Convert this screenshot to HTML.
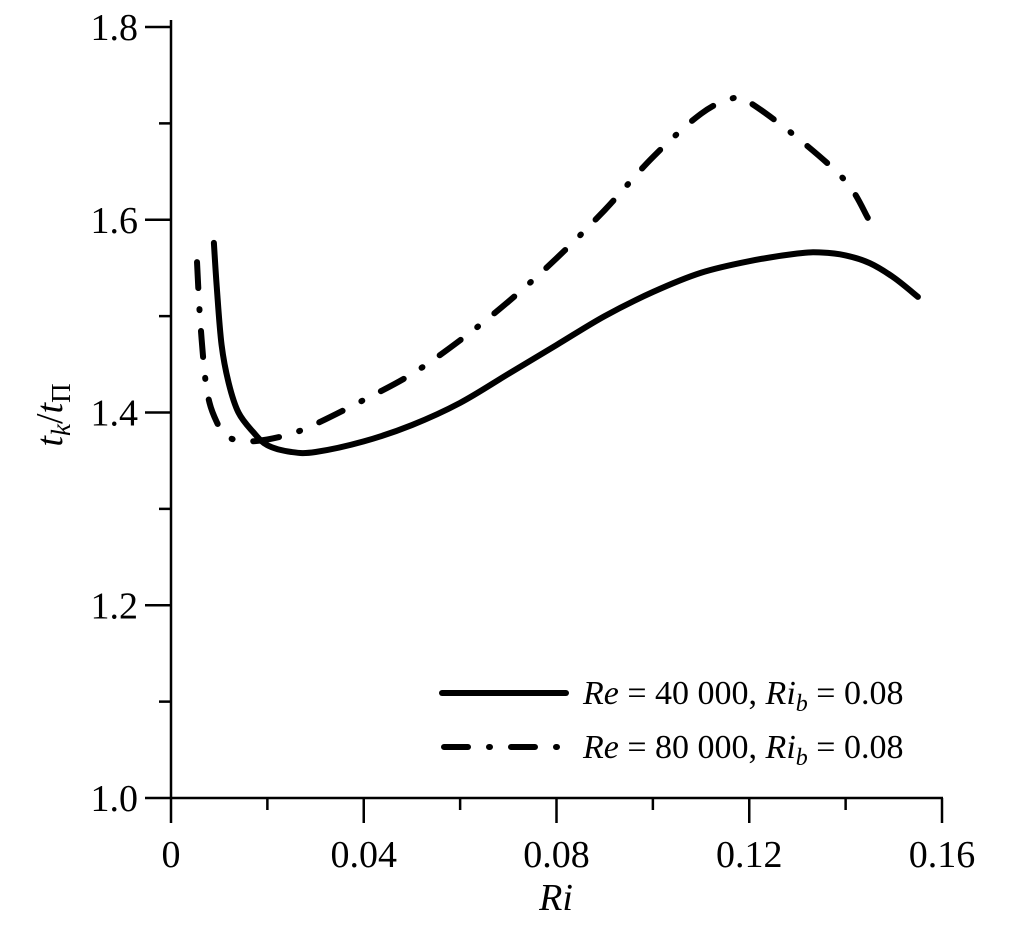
<!DOCTYPE html>
<html><head><meta charset="utf-8"><style>
body{margin:0;background:#fff}
svg text{font-family:"Liberation Serif",serif;fill:#000}
</style></head><body>
<svg width="1010" height="932" viewBox="0 0 1010 932">
<g id="axes"></g>
<g id="series"></g>
<text x="62" y="415" font-size="38" font-style="italic" text-anchor="middle" transform="rotate(-90 62 415)">t<tspan font-size="27" dy="8">k</tspan><tspan dy="-8" font-style="normal">/</tspan>t<tspan font-size="27" dy="8" font-style="normal">Π</tspan></text>
<text x="556" y="910" font-size="38" font-style="italic" text-anchor="middle">Ri</text>
<g>
<line x1="442" y1="693" x2="566" y2="693" stroke="#000" stroke-width="6" stroke-linecap="round"/>
<text x="583" y="704" font-size="34"><tspan font-style="italic">Re</tspan> = 40 000, <tspan font-style="italic">Ri</tspan><tspan font-style="italic" font-size="24" dy="7">b</tspan><tspan dy="-7"> = 0.08</tspan></text>
<line x1="444" y1="747" x2="560" y2="747" stroke="#000" stroke-width="6" stroke-linecap="round" stroke-dasharray="24 21 1 21"/>
<text x="583" y="758" font-size="34"><tspan font-style="italic">Re</tspan> = 80 000, <tspan font-style="italic">Ri</tspan><tspan font-style="italic" font-size="24" dy="7">b</tspan><tspan dy="-7"> = 0.08</tspan></text>
</g>
</svg>
<script>
const xTicks=[0,0.04,0.08,0.12,0.16];
const xTickLabels=["0","0.04","0.08","0.12","0.16"];
const yTicks=[1.0,1.2,1.4,1.6,1.8];
const yTickLabels=["1.0","1.2","1.4","1.6","1.8"];
const riA=[0.0089,0.0095,0.0105,0.012,0.014,0.017,0.02,0.025,0.03,0.04,0.05,0.06,0.07,0.08,0.09,0.10,0.11,0.12,0.13,0.135,0.14,0.145,0.15,0.155];
const valA=[1.576,1.53,1.47,1.43,1.40,1.38,1.366,1.359,1.359,1.37,1.387,1.41,1.44,1.47,1.50,1.525,1.545,1.557,1.565,1.566,1.563,1.555,1.54,1.52];
const riB=[0.0054,0.006,0.007,0.008,0.0095,0.011,0.013,0.016,0.02,0.025,0.03,0.04,0.05,0.06,0.07,0.08,0.09,0.10,0.11,0.1165,0.12,0.13,0.14,0.1446];
const valB=[1.556,1.50,1.44,1.41,1.39,1.378,1.372,1.370,1.372,1.378,1.388,1.413,1.44,1.475,1.515,1.56,1.61,1.665,1.71,1.726,1.722,1.685,1.64,1.602];
const NS="http://www.w3.org/2000/svg";
const X=v=>171+v*(942-171)/0.16;
const Y=v=>798-(v-1.0)*(798-27)/0.8;
const axes=document.getElementById('axes');
function mk(tag,attrs,parent){const e=document.createElementNS(NS,tag);for(const k in attrs)e.setAttribute(k,attrs[k]);parent.appendChild(e);return e;}
let e=mk('line',{x1:171,y1:20,x2:171,y2:823,stroke:'#000','stroke-width':2.5},axes);


e=mk('line',{x1:145,y1:798,x2:943,y2:798,stroke:'#000','stroke-width':2.5},axes);


for(let i=0;i<xTicks.length;i++){
  const x=X(xTicks[i]);
  if(i>0){e=mk('line',{x1:x,y1:798,x2:x,y2:823,stroke:'#000','stroke-width':2.5},axes);
  
  }
  e=mk('text',{x:x,y:867,'font-size':38,'text-anchor':'middle'},axes);e.textContent=xTickLabels[i];
  
  
  if(i<xTicks.length-1){const xm=X(xTicks[i]+0.02);
  e=mk('line',{x1:xm,y1:798,x2:xm,y2:810,stroke:'#000','stroke-width':2.5},axes);
  
  }
}
for(let i=0;i<yTicks.length;i++){
  const y=Y(yTicks[i]);
  if(i>0){e=mk('line',{x1:145,y1:y,x2:171,y2:y,stroke:'#000','stroke-width':2.5},axes);
  
  }
  e=mk('text',{x:138,y:y+13,'font-size':38,'text-anchor':'end'},axes);e.textContent=yTickLabels[i];
  
  
  if(i<yTicks.length-1){const ym=Y(yTicks[i]+0.1);
  e=mk('line',{x1:159,y1:ym,x2:171,y2:ym,stroke:'#000','stroke-width':2.5},axes);
  
  }
}
function path(xs,ys){
  const p=xs.map((v,i)=>[X(v),Y(ys[i])]);
  let d='M'+p[0][0]+','+p[0][1];
  for(let i=0;i<p.length-1;i++){
    const p0=p[i-1]||p[i],p1=p[i],p2=p[i+1],p3=p[i+2]||p2;
    const c1=[p1[0]+(p2[0]-p0[0])/6,p1[1]+(p2[1]-p0[1])/6];
    const c2=[p2[0]-(p3[0]-p1[0])/6,p2[1]-(p3[1]-p1[1])/6];
    d+=' C'+c1+' '+c2+' '+p2;
  }
  return d;
}
const ser=document.getElementById('series');
e=mk('path',{d:path(riA,valA),fill:'none',stroke:'#000','stroke-width':6,'stroke-linecap':'round'},ser);


e=mk('path',{d:path(riB,valB),fill:'none',stroke:'#000','stroke-width':6,'stroke-linecap':'round','stroke-dasharray':'26 21 1 21'},ser);


</script>
</body></html>
